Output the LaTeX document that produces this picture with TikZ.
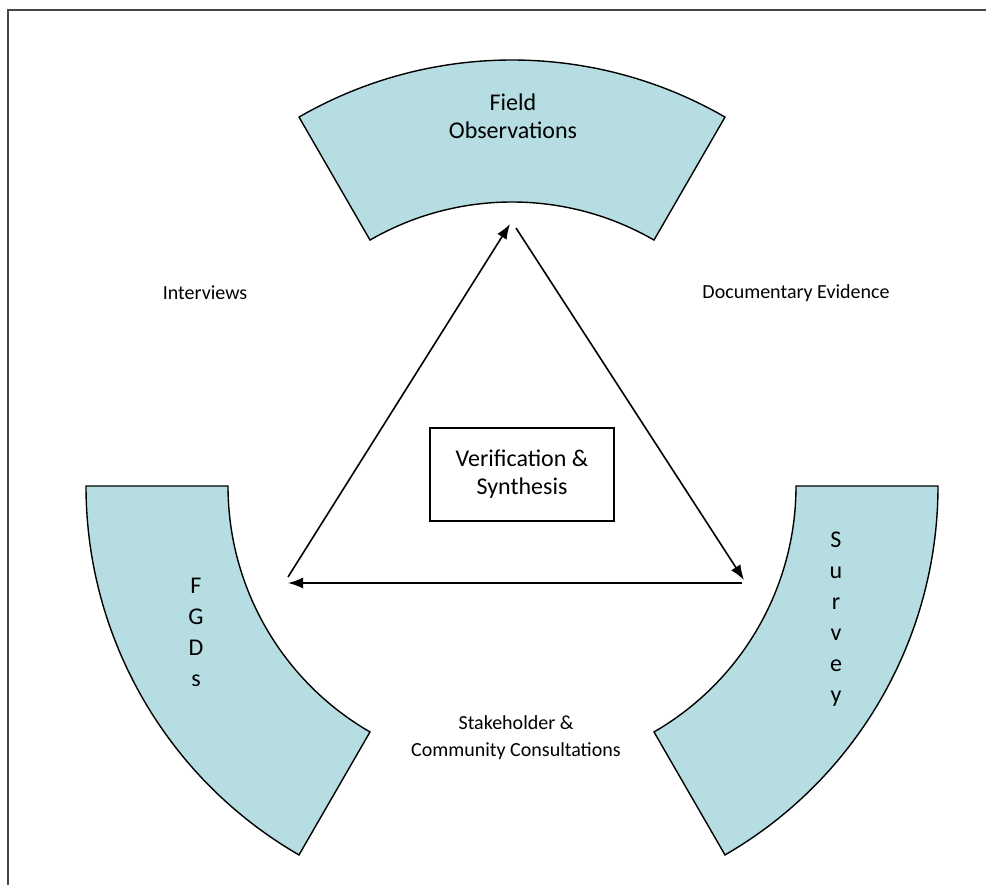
\documentclass[tikz,border=0pt]{standalone}
\usepackage{fontspec}
\setmainfont{Carlito}
\usetikzlibrary{arrows.meta}
\definecolor{secfill}{RGB}{181,221,226}
\definecolor{framegray}{RGB}{70,70,70}
\tikzset{
  sector/.style={draw=black, line width=1.4pt, fill=secfill, line join=miter},
  biglabel/.style={font=\fontsize{24}{28}\selectfont, align=center, inner sep=0pt},
  smalllabel/.style={font=\fontsize{20}{27}\selectfont, align=center, inner sep=0pt},
  vlabel/.style={font=\fontsize{24}{31}\selectfont, align=center, inner sep=0pt},
  centerbox/.style={draw=black, line width=1.4pt, minimum width=184pt, minimum height=93pt, inner sep=0pt, font=\fontsize{24}{28}\selectfont, align=center},
  flow/.style={line width=1.6pt, -{Latex[length=15pt,width=11pt]}},
  frameline/.style={draw=framegray, line width=2pt}
}
\begin{document}
\begin{tikzpicture}[x=1pt,y=-1pt]
\useasboundingbox (0,0) rectangle (986,885);
% frame (top and left only)
\coordinate (ftr) at (986,10);
\coordinate (ftl) at (8,10);
\coordinate (fbl) at (8,885);
\draw[frameline] (ftr) -- (ftl) -- (fbl);
% sectors
\begin{scope}[shift={(512,486)}]
  \path[sector] (-120:426) arc[start angle=-120, end angle=-60, radius=426]
     -- (-60:284) arc[start angle=-60, end angle=-120, radius=284] -- cycle;
  \path[sector] (180:426) arc[start angle=180, end angle=120, radius=426]
     -- (120:284) arc[start angle=120, end angle=180, radius=284] -- cycle;
  \path[sector] (0:426) arc[start angle=0, end angle=60, radius=426]
     -- (60:284) arc[start angle=60, end angle=0, radius=284] -- cycle;
\end{scope}
% labels
\node[biglabel] (field) at (513,116) {Field\\Observations};
\node[vlabel] (fgds) at (196,632) {F\\G\\D\\s};
\node[vlabel] (survey) at (836,619) {S\\u\\r\\v\\e\\y};
\node[smalllabel] (interviews) at (205,293) {Interviews};
\node[smalllabel] (docev) at (796,293) {Documentary Evidence};
\node[smalllabel] (stake) at (516,738) {Stakeholder \&\\Community Consultations};
\node[centerbox] (verif) at (522,474.5) {Verification \&\\Synthesis};
% triangle of arrows
\coordinate (pL) at (288,577);
\coordinate (pT) at (510,224);
\coordinate (pT2) at (516,228);
\coordinate (pR) at (744,580);
\coordinate (pR2) at (742,583);
\coordinate (pL2) at (288,583);
\draw[flow] (pL) -- (pT);
\draw[flow] (pT2) -- (pR);
\draw[flow] (pR2) -- (pL2);
\end{tikzpicture}
\end{document}
